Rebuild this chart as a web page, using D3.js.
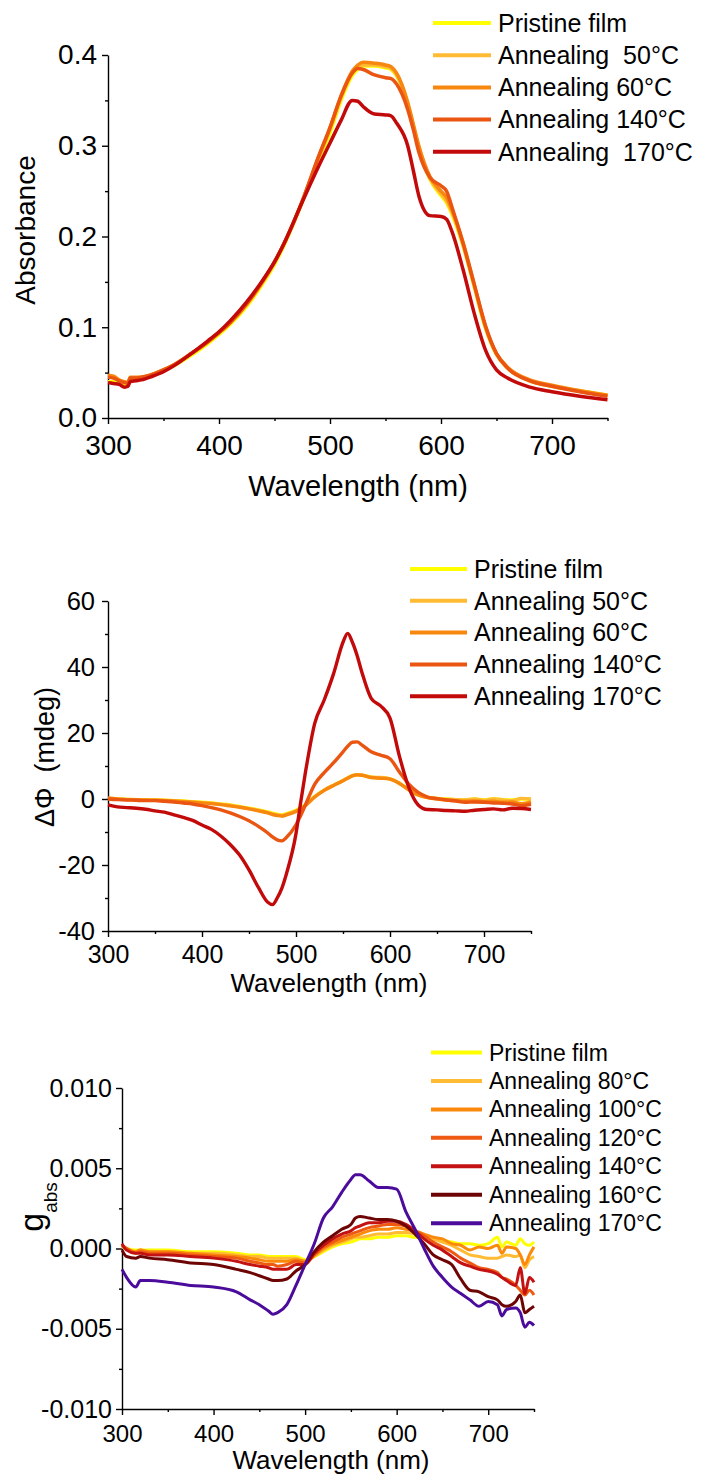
<!DOCTYPE html>
<html>
<head>
<meta charset="utf-8">
<script src="https://cdn.jsdelivr.net/npm/d3@7"></script>
<style>
  body { margin: 0; background: #fff; }
  svg text { font-family: Arial, "Liberation Sans", sans-serif; fill: #000; }
</style>
</head>
<body>
<svg id="fig" width="705" height="1476"></svg>
<script>
// ---------- panel 1: absorbance ----------
const wl1 = [300,305,310,315,318,320,325,330,340,350,
             360,375,390,400,410,425,440,450,460,475,
             490,500,510,520,525,530,540,550,555,560,
             570,575,580,590,600,605,610,620,630,640,
             650,660,680,700,725,750];

const absPristine = [0.040,0.040,0.038,0.036,0.037,0.042,0.043,0.044,0.047,0.052,
  0.058,0.069,0.082,0.092,0.103,0.123,0.149,0.169,0.194,0.238,
  0.285,0.314,0.350,0.377,0.384,0.388,0.388,0.386,0.384,0.377,
  0.346,0.322,0.299,0.263,0.245,0.237,0.224,0.189,0.144,0.099,
  0.070,0.055,0.041,0.035,0.030,0.025];
const abs50 = [0.046,0.045,0.041,0.039,0.039,0.044,0.044,0.045,0.048,0.053,
  0.059,0.071,0.084,0.094,0.105,0.125,0.151,0.171,0.195,0.238,
  0.287,0.318,0.353,0.380,0.387,0.389,0.389,0.387,0.385,0.378,
  0.346,0.322,0.298,0.264,0.247,0.239,0.226,0.190,0.145,0.100,
  0.070,0.055,0.041,0.035,0.030,0.025];
const abs60 = [0.047,0.046,0.042,0.040,0.039,0.045,0.045,0.045,0.048,0.053,
  0.059,0.071,0.084,0.094,0.105,0.126,0.152,0.172,0.196,0.239,
  0.289,0.320,0.355,0.382,0.389,0.392,0.391,0.389,0.387,0.380,
  0.348,0.324,0.300,0.266,0.250,0.243,0.229,0.193,0.147,0.101,
  0.071,0.056,0.042,0.036,0.030,0.025];
const abs140 = [0.045,0.044,0.041,0.039,0.038,0.044,0.044,0.045,0.048,0.053,
  0.059,0.071,0.084,0.094,0.105,0.126,0.152,0.172,0.196,0.239,
  0.289,0.320,0.355,0.380,0.385,0.384,0.378,0.375,0.374,0.368,
  0.340,0.318,0.293,0.265,0.256,0.250,0.232,0.192,0.147,0.102,
  0.071,0.055,0.041,0.035,0.029,0.024];
const abs170 = [0.039,0.038,0.037,0.034,0.035,0.040,0.041,0.042,0.046,0.051,
  0.058,0.071,0.085,0.095,0.107,0.128,0.153,0.172,0.196,0.238,
  0.278,0.303,0.328,0.350,0.349,0.343,0.335,0.334,0.333,0.325,
  0.300,0.273,0.245,0.223,0.222,0.219,0.205,0.163,0.115,0.075,
  0.053,0.044,0.034,0.029,0.024,0.020];

const labels1 = ["Pristine film", "Annealing  50°C", "Annealing 60°C", "Annealing 140°C", "Annealing  170°C"];
const colors1 = ["#ffff00", "#ffbb33", "#f7870f", "#ea5512", "#c20a0a"];

// ---------- panel 2: CD (mdeg) ----------
const wl2 = [300,310,320,330,340,350,360,370,380,390,
             400,410,420,430,440,450,460,470,475,480,
             485,490,500,505,510,520,530,540,550,555,
             560,565,570,580,590,600,610,620,630,640,
             650,660,670,680,690,700,710,720,730,740,
             750];

const cdPristine = [0.1,0.0,-0.1,-0.2,-0.2,-0.3,-0.4,-0.5,-0.6,-0.8,
  -1.0,-1.2,-1.5,-1.8,-2.3,-2.8,-3.3,-3.9,-4.3,-4.6,
  -4.8,-4.4,-3.4,-2.6,-1.8,0.8,2.7,4.2,5.6,6.4,
  7.1,7.3,7.2,6.6,6.4,6.1,4.8,2.8,1.2,0.5,
  0.2,0.0,-0.2,-0.2,0.0,-0.3,0.1,-0.2,-0.3,0.0,
  -0.1];
const cd50 = [0.2,0.0,-0.1,-0.2,-0.3,-0.3,-0.4,-0.5,-0.7,-0.9,
  -1.1,-1.3,-1.6,-1.9,-2.4,-2.9,-3.4,-4.1,-4.5,-4.8,
  -5.0,-4.6,-3.6,-2.8,-1.9,0.7,2.7,4.2,5.6,6.4,
  7.1,7.4,7.3,6.6,6.5,6.1,4.8,2.8,1.3,0.5,
  0.2,-0.1,-0.2,-0.3,0.0,-0.4,0.0,-0.3,-0.5,0.2,
  0.0];
const cd60 = [0.3,0.0,-0.2,-0.2,-0.3,-0.4,-0.5,-0.6,-0.8,-1.0,
  -1.2,-1.4,-1.7,-2.1,-2.5,-3.0,-3.6,-4.2,-4.7,-5.0,
  -5.2,-4.8,-3.8,-3.0,-2.0,0.6,2.6,4.1,5.5,6.3,
  7.0,7.3,7.2,6.5,6.3,6.0,4.7,2.8,1.2,0.4,
  0.0,-0.3,-0.5,-0.7,-0.6,-0.8,-0.7,-1.0,-0.9,-1.4,
  -0.9];
const cd140 = [0.0,-0.2,-0.3,-0.4,-0.5,-0.5,-0.7,-0.9,-1.2,-1.5,
  -2.0,-2.6,-3.3,-4.2,-5.3,-6.6,-8.3,-10.3,-11.5,-12.4,
  -12.7,-11.6,-7.8,-5.0,-1.8,4.5,8.0,11.0,14.3,16.0,
  17.2,17.3,16.4,14.3,13.3,12.2,8.2,4.5,2.0,0.6,
  0.1,-0.3,-0.6,-1.0,-0.9,-1.0,-1.2,-1.3,-1.5,-2.0,
  -1.6];
const cd170 = [-1.8,-2.4,-2.6,-2.8,-3.1,-3.6,-4.0,-4.8,-5.6,-6.5,
  -7.9,-9.2,-11.2,-13.8,-17.0,-21.5,-26.8,-31.3,-32.0,-30.0,
  -27.0,-22.5,-10.5,-1.0,8.0,23.0,30.0,38.0,47.5,50.2,
  47.5,43.5,38.5,30.5,28.2,24.5,13.0,3.5,-1.8,-3.2,
  -3.3,-3.5,-3.6,-3.7,-3.4,-3.2,-3.0,-3.3,-2.8,-2.9,
  -3.2];

const labels2 = ["Pristine film", "Annealing 50°C", "Annealing 60°C", "Annealing 140°C", "Annealing 170°C"];
const colors2 = ["#ffff00", "#ffbb33", "#f7870f", "#ea5512", "#c20a0a"];

// ---------- panel 3: g_abs (values in units of 1e-3) ----------
const wl3 = [300,305,315,320,330,350,375,400,425,440,
             450,460,465,470,480,490,500,510,520,530,
             540,550,555,560,570,580,590,600,610,620,
             630,640,650,660,670,680,690,700,710,715,
             720,730,735,740,745,750];

const gPristine = [0.1,0.0,-0.1,-0.1,-0.1,-0.1,-0.2,-0.2,-0.3,-0.4,
  -0.4,-0.5,-0.5,-0.5,-0.5,-0.5,-0.7,-0.5,-0.2,0.1,
  0.3,0.4,0.5,0.6,0.6,0.7,0.7,0.8,0.8,0.7,
  0.7,0.6,0.5,0.4,0.3,0.3,0.2,0.3,0.7,0.1,
  0.4,0.2,0.6,0.3,0.2,0.4];
const g80 = [0.1,0.0,-0.2,-0.1,-0.2,-0.2,-0.3,-0.3,-0.4,-0.5,
  -0.5,-0.6,-0.6,-0.6,-0.6,-0.6,-0.8,-0.5,-0.1,0.2,
  0.4,0.6,0.7,0.7,0.8,0.9,0.9,1.0,1.0,0.9,
  0.8,0.6,0.4,0.2,-0.1,-0.4,-0.5,-0.6,-0.6,-0.5,
  -0.4,-0.5,-0.4,-1.2,-0.7,-0.5];
const g100 = [0.2,0.0,-0.2,-0.1,-0.2,-0.2,-0.3,-0.4,-0.5,-0.6,
  -0.7,-0.8,-0.8,-0.8,-0.8,-0.7,-0.8,-0.4,0.0,0.3,
  0.5,0.7,0.8,0.9,1.1,1.2,1.2,1.3,1.2,1.1,
  0.9,0.7,0.6,0.3,0.2,-0.1,0.1,0.0,0.2,-0.3,
  0.1,0.0,-0.4,-1.0,-0.4,0.1];
const g120 = [0.2,0.0,-0.3,-0.2,-0.3,-0.3,-0.4,-0.5,-0.6,-0.8,
  -0.9,-1.0,-1.0,-1.1,-1.0,-0.8,-0.9,-0.4,0.1,0.4,
  0.7,0.9,1.0,1.1,1.3,1.4,1.5,1.5,1.4,1.1,
  0.8,0.4,0.1,-0.2,-0.6,-0.9,-1.2,-1.3,-1.5,-1.8,
  -1.9,-2.3,-2.6,-2.9,-2.6,-2.9];
const g140 = [0.3,-0.1,-0.3,-0.3,-0.4,-0.4,-0.5,-0.6,-0.8,-1.0,
  -1.1,-1.2,-1.3,-1.3,-1.3,-1.0,-1.0,-0.3,0.2,0.6,
  0.9,1.1,1.3,1.4,1.6,1.6,1.7,1.7,1.5,1.1,
  0.6,0.2,-0.1,-0.5,-0.9,-1.1,-1.3,-1.4,-1.6,-1.8,
  -2.0,-2.3,-1.2,-2.8,-1.8,-2.1];
const g160 = [-0.1,-0.5,-0.6,-0.5,-0.6,-0.7,-0.9,-1.0,-1.3,-1.5,
  -1.7,-1.9,-2.0,-2.0,-1.9,-1.4,-1.0,-0.2,0.4,0.8,
  1.2,1.5,1.9,2.0,1.9,1.8,1.8,1.7,1.4,0.9,
  0.3,-0.4,-0.7,-1.0,-1.9,-2.6,-2.7,-3.0,-3.2,-3.5,
  -3.6,-3.3,-2.9,-4.0,-3.8,-3.6];
const g170 = [-1.3,-1.8,-2.4,-2.0,-2.0,-2.1,-2.3,-2.4,-2.7,-3.2,
  -3.5,-3.9,-4.1,-4.0,-3.5,-2.3,-1.0,0.3,1.9,2.6,
  3.5,4.3,4.6,4.6,4.2,3.8,3.8,3.7,2.3,1.2,
  0.0,-1.1,-1.8,-2.4,-2.8,-3.2,-3.6,-3.3,-3.5,-4.2,
  -3.8,-3.7,-4.0,-4.9,-4.6,-4.8];

const labels3 = ["Pristine film", "Annealing 80°C", "Annealing 100°C", "Annealing 120°C",
                 "Annealing 140°C", "Annealing 160°C", "Annealing 170°C"];
const colors3 = ["#ffff00", "#ffbb33", "#fb8a0c", "#ee5a12", "#c41212", "#6e0505", "#4b0c9c"];

// ---------- drawing ----------
const svg = d3.select("#fig");

function panel(p) {
  const g = svg.append("g");
  const x = d3.scaleLinear().domain([300, 750]).range(p.xr);
  const y = d3.scaleLinear().domain(p.yd).range(p.yr);

  const font = size => sel => sel.selectAll("text")
    .attr("font-family", "Arial, 'Liberation Sans', sans-serif")
    .attr("font-size", size)
    .attr("fill", "#000");

  // minor ticks
  g.append("g")
    .attr("transform", `translate(0,${p.yr[0]})`)
    .call(d3.axisBottom(x).tickValues([350, 450, 550, 650, 750]).tickSize(3).tickFormat(""))
    .call(a => a.select(".domain").remove());
  g.append("g")
    .attr("transform", `translate(${p.xr[0]},0)`)
    .call(d3.axisLeft(y).tickValues(p.yMinor).tickSize(3).tickFormat(""))
    .call(a => a.select(".domain").remove());

  // major ticks + labels
  g.append("g")
    .attr("transform", `translate(0,${p.yr[0]})`)
    .call(d3.axisBottom(x).tickValues([300, 400, 500, 600, 700])
      .tickSize(6).tickSizeOuter(0).tickPadding(p.xPad).tickFormat(d3.format("d")))
    .call(font(p.xFont));
  g.append("g")
    .attr("transform", `translate(${p.xr[0]},0)`)
    .call(d3.axisLeft(y).tickValues(p.yMajor)
      .tickSize(6).tickSizeOuter(0).tickPadding(p.yPad).tickFormat(p.yFmt))
    .call(font(p.yFont));
  g.selectAll(".domain, .tick line").attr("stroke", "#000").attr("stroke-width", 1.4);

  // series
  const line = d3.line()
    .x(d => x(d[0]))
    .y(d => y(d[1]))
    .curve(d3.curveMonotoneX);
  p.series.forEach((s, i) => {
    g.append("path")
      .datum(p.wl.map((w, j) => [w, s[j] * (p.k || 1)]))
      .attr("fill", "none")
      .attr("stroke", p.colors[i])
      .attr("stroke-width", p.lw)
      .attr("stroke-linejoin", "round")
      .attr("d", line);
  });

  // legend
  const lg = g.append("g").attr("transform", `translate(${p.leg[0]},${p.leg[1]})`);
  p.labels.forEach((t, i) => {
    const row = lg.append("g").attr("transform", `translate(0,${i * p.leg[2]})`);
    row.append("line").attr("x1", 0).attr("x2", p.leg[3]).attr("y1", 0).attr("y2", 0)
      .attr("stroke", p.colors[i]).attr("stroke-width", 4);
    row.append("text")
      .attr("x", p.leg[3] + 7).attr("y", 0).attr("dy", "0.35em")
      .attr("font-size", p.legFont)
      .attr("xml:space", "preserve")
      .style("white-space", "pre")
      .text(t);
  });

  // x title
  g.append("text")
    .attr("x", p.xTitle[0]).attr("y", p.xTitle[1])
    .attr("text-anchor", "middle")
    .attr("font-size", p.titleFont)
    .text("Wavelength (nm)");
  return g;
}

// panel 1
const p1 = panel({
  xr: [108, 607.5], yr: [418, 55], yd: [0, 0.4],
  yMajor: [0, 0.1, 0.2, 0.3, 0.4], yMinor: [0.05, 0.15, 0.25, 0.35],
  yFmt: v => v.toFixed(1), xFont: 28, yFont: 28, xPad: 11, yPad: 5,
  wl: wl1, series: [absPristine, abs50, abs60, abs140, abs170],
  colors: colors1, labels: labels1, lw: 3.5,
  leg: [433, 23, 32.2, 58], legFont: 25,
  xTitle: [358, 496], titleFont: 29
});
p1.append("text")
  .attr("transform", "translate(35,230) rotate(-90)")
  .attr("text-anchor", "middle")
  .attr("font-size", 28)
  .text("Absorbance");

// panel 2
const p2 = panel({
  xr: [108, 531], yr: [931, 601], yd: [-40, 60],
  yMajor: [-40, -20, 0, 20, 40, 60], yMinor: [-30, -10, 10, 30, 50],
  yFmt: v => String(v), xFont: 25, yFont: 25.5, xPad: 8, yPad: 7,
  wl: wl2, series: [cdPristine, cd50, cd60, cd140, cd170],
  colors: colors2, labels: labels2, lw: 3.4,
  leg: [410, 569, 31.8, 57], legFont: 25,
  xTitle: [329, 992], titleFont: 26
});
p2.append("text")
  .attr("transform", "translate(54,757) rotate(-90)")
  .attr("text-anchor", "middle")
  .attr("font-size", 27)
  .attr("xml:space", "preserve")
  .style("white-space", "pre")
  .text("ΔΦ  (mdeg)");

// panel 3
const p3 = panel({
  xr: [122, 534], yr: [1409, 1088], yd: [-0.01, 0.01],
  yMajor: [-0.01, -0.005, 0, 0.005, 0.01], yMinor: [-0.0075, -0.0025, 0.0025, 0.0075],
  yFmt: v => v.toFixed(3), xFont: 24, yFont: 25, xPad: 10, yPad: 4,
  wl: wl3, series: [gPristine, g80, g100, g120, g140, g160, g170], k: 1e-3,
  colors: colors3, labels: labels3, lw: 3,
  leg: [431, 1052.5, 28.45, 51], legFont: 23,
  xTitle: [331, 1469], titleFont: 26
});
const gl = p3.append("text")
  .attr("transform", "translate(43,1207) rotate(-90)")
  .attr("text-anchor", "middle");
gl.append("tspan").attr("font-size", 34).text("g");
gl.append("tspan").attr("font-size", 19).attr("dy", 14).text("abs");
</script>
</body>
</html>
